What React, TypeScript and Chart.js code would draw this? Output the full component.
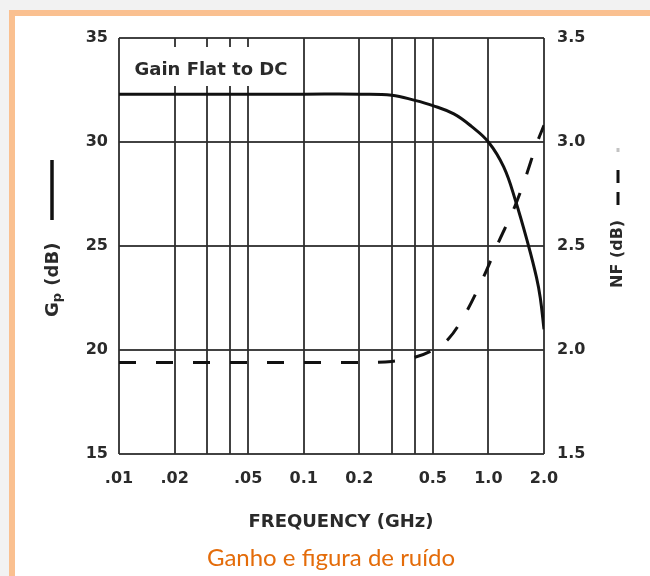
import React, { useEffect, useRef } from "react";
import { Chart, registerables } from "chart.js";

Chart.register(...registerables);

// X axis (frequency, GHz)
const gridFreqs = [0.01, 0.02, 0.03, 0.04, 0.05, 0.1, 0.2, 0.3, 0.4, 0.5, 1, 2];
const freqLabels = [".01", ".02", "", "", ".05", "0.1", "0.2", "", "", "0.5", "1.0", "2.0"];

// Gain (dB), solid line, left axis
const gainFreq = [0.01, 0.1, 0.2, 0.3, 0.4, 0.5, 0.65, 0.81, 1.0, 1.21, 1.4, 1.65, 1.82, 1.91, 2.0];
const gainValues = [32.3, 32.3, 32.3, 32.25, 32.0, 31.75, 31.35, 30.75, 30.0, 28.8, 27.2, 25.0, 23.5, 22.5, 21.0];

// Noise figure (dB), dashed line, right axis
const nfFreq = [0.01, 0.2, 0.3, 0.4, 0.5, 0.61, 0.74, 0.94, 1.13, 1.39, 1.59, 1.84, 2.0];
const nfValues = [1.94, 1.94, 1.945, 1.965, 2.0, 2.055, 2.165, 2.35, 2.515, 2.69, 2.83, 3.0, 3.08];

const gainTicks = [15, 20, 25, 30, 35];
const nfTicks = [1.5, 2.0, 2.5, 3.0, 3.5];

const TXT = "#2a2a2a";
const GRID = "rgba(45,45,45,0.9)";
const FONT = "DejaVu Sans";

const decor = {
  id: "decor",
  beforeDatasetsDraw(chart: any) {
    const { ctx, chartArea: a } = chart;
    ctx.save();
    ctx.fillStyle = "#ffffff";
    ctx.fillRect(a.left + 2, a.top + 9, 181, 39);
    ctx.fillStyle = TXT;
    ctx.font = `bold 18px "${FONT}"`;
    ctx.textAlign = "center";
    ctx.textBaseline = "middle";
    ctx.fillText("Gain Flat to DC", a.left + 92, a.top + 32);
    ctx.restore();
  },
  afterDraw(chart: any) {
    const { ctx, chartArea: a } = chart;
    ctx.save();
    ctx.fillStyle = TXT;
    ctx.strokeStyle = "#111";
    // x title
    ctx.font = `bold 18px "${FONT}"`;
    ctx.textAlign = "center";
    ctx.textBaseline = "middle";
    ctx.fillText("FREQUENCY (GHz)", a.left + 222, a.bottom + 68);

    // left title: Gp (dB) + solid line
    ctx.save();
    ctx.translate(53, 317);
    ctx.rotate(-Math.PI / 2);
    ctx.textAlign = "left";
    ctx.textBaseline = "middle";
    ctx.font = `bold 18px "${FONT}"`;
    ctx.fillText("G", 0, 0);
    let w = ctx.measureText("G").width;
    ctx.font = `bold 13px "${FONT}"`;
    ctx.fillText("p", w, 5);
    w += ctx.measureText("p").width + 1;
    ctx.font = `bold 18px "${FONT}"`;
    ctx.fillText(" (dB)", w, 0);
    ctx.lineWidth = 3.5;
    ctx.beginPath();
    ctx.moveTo(97, -1);
    ctx.lineTo(157, -1);
    ctx.stroke();
    ctx.restore();

    // right title: NF (dB) + dashed line
    ctx.save();
    ctx.translate(618, 288);
    ctx.rotate(-Math.PI / 2);
    ctx.textAlign = "left";
    ctx.textBaseline = "middle";
    ctx.font = `bold 16px "${FONT}"`;
    ctx.fillText("NF (dB)", 0, 0);
    ctx.lineWidth = 3;
    ctx.beginPath();
    ctx.moveTo(83, 0);
    ctx.lineTo(96, 0);
    ctx.moveTo(105, 0);
    ctx.lineTo(118, 0);
    ctx.stroke();
    ctx.strokeStyle = "rgba(17,17,17,0.25)";
    ctx.beginPath();
    ctx.moveTo(136, 0);
    ctx.lineTo(140, 0);
    ctx.stroke();
    ctx.restore();
    ctx.restore();
  },
};

export default function App() {
  const ref = useRef<HTMLCanvasElement | null>(null);

  useEffect(() => {
    if (!ref.current) return;
    const chart = new Chart(ref.current, {
      type: "line",
      data: {
        datasets: [
          {
            label: "Gp (dB)",
            data: gainFreq.map((f, i) => ({ x: f, y: gainValues[i] })),
            yAxisID: "yG",
            borderColor: "#111",
            borderWidth: 3,
            pointRadius: 0,
            tension: 0.4,
            fill: false,
          },
          {
            label: "NF (dB)",
            data: nfFreq.map((f, i) => ({ x: f, y: nfValues[i] })),
            yAxisID: "yN",
            borderColor: "#111",
            borderWidth: 3,
            borderDash: [17, 20],
            pointRadius: 0,
            cubicInterpolationMode: "monotone",
            fill: false,
          },
        ],
      },
      options: {
        responsive: false,
        animation: false,
        devicePixelRatio: 1,
        layout: { padding: { top: 38, left: 0, right: 0, bottom: 0 } },
        plugins: { legend: { display: false }, tooltip: { enabled: false } },
        scales: {
          x: {
            type: "logarithmic",
            min: gridFreqs[0],
            max: gridFreqs[gridFreqs.length - 1],
            afterBuildTicks: (s: any) => {
              s.ticks = gridFreqs.map((v) => ({ value: v }));
            },
            afterFit: (s: any) => {
              s.height = 122;
            },
            grid: { color: GRID, lineWidth: 2, drawTicks: false },
            border: { display: false },
            ticks: {
              autoSkip: false,
              maxRotation: 0,
              padding: 15,
              color: TXT,
              font: { family: FONT, size: 16, weight: "bold" },
              callback: (_v: any, i: number) => freqLabels[i],
            },
          },
          yG: {
            type: "linear",
            position: "left",
            min: 15,
            max: 35,
            afterBuildTicks: (s: any) => {
              s.ticks = gainTicks.map((v) => ({ value: v }));
            },
            afterFit: (s: any) => {
              s.width = 119;
            },
            grid: { color: GRID, lineWidth: 2, drawTicks: false },
            border: { display: false },
            ticks: {
              padding: 11,
              color: TXT,
              font: { family: FONT, size: 16, weight: "bold" },
            },
          },
          yN: {
            type: "linear",
            position: "right",
            min: 1.5,
            max: 3.5,
            afterBuildTicks: (s: any) => {
              s.ticks = nfTicks.map((v) => ({ value: v }));
            },
            afterFit: (s: any) => {
              s.width = 106;
            },
            grid: { display: false, drawTicks: false },
            border: { display: false },
            ticks: {
              padding: 13,
              color: TXT,
              font: { family: FONT, size: 16, weight: "bold" },
              callback: (v: any) => Number(v).toFixed(1),
            },
          },
        },
      },
      plugins: [decor],
    } as any);
    return () => chart.destroy();
  }, []);

  return (
    <div
      style={{
        position: "fixed",
        left: 0,
        top: 0,
        width: 650,
        height: 576,
        overflow: "hidden",
        background: "#f2f2f2",
      }}
    >
      <div
        style={{
          position: "absolute",
          left: 9,
          top: 10,
          width: 700,
          height: 700,
          border: "6px solid #fac090",
          background: "#ffffff",
        }}
      />
      <canvas
        ref={ref}
        width={650}
        height={576}
        style={{ position: "absolute", left: 0, top: 0, width: 650, height: 576 }}
      />
      <div
        style={{
          position: "absolute",
          left: 0,
          width: 662,
          top: 543,
          textAlign: "center",
          fontFamily: "Lato, 'Open Sans', sans-serif",
          fontSize: 24,
          lineHeight: "28px",
          color: "#e46c0a",
        }}
      >
        Ganho e figura de ruído
      </div>
    </div>
  );
}
